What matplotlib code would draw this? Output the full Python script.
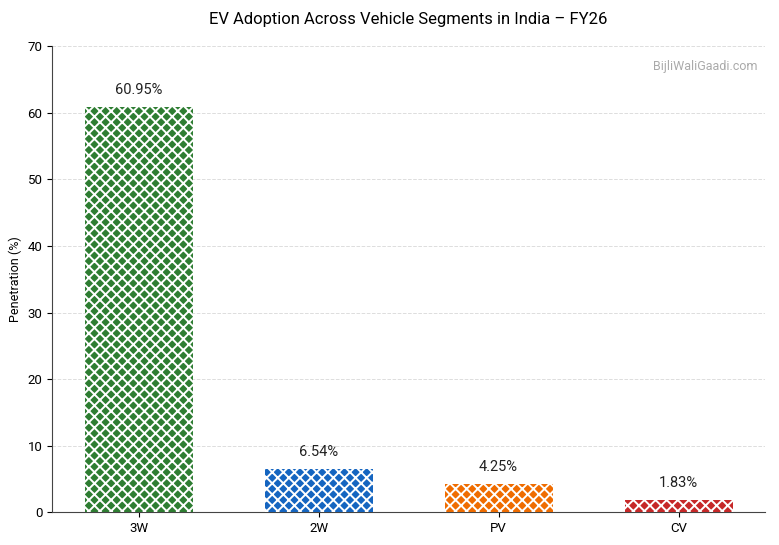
import matplotlib
matplotlib.use("Agg")
import matplotlib.pyplot as plt

segments = ["3W", "2W", "PV", "CV"]
penetration = [60.95, 6.54, 4.25, 1.83]
colors = ["#2e7d32", "#1565c0", "#ef6c00", "#c62828"]

plt.rcParams["font.family"] = ["Roboto", "DejaVu Sans"]
plt.rcParams["hatch.color"] = "white"
plt.rcParams["hatch.linewidth"] = 1.4

fig, ax = plt.subplots(figsize=(7.79, 5.45), dpi=100)
bars = ax.bar(segments, penetration, width=0.6, color=colors, hatch="xxx",
              edgecolor="white", linewidth=0, zorder=3)

for b, v in zip(bars, penetration):
    ax.text(b.get_x() + b.get_width() / 2, v + 1.5, f"{v:.2f}%",
            ha="center", va="bottom", fontsize=10.5, color="#222222")

ax.set_ylim(0, 70)
ax.set_ylabel("Penetration (%)", fontsize=9)
ax.set_title("EV Adoption Across Vehicle Segments in India – FY26", fontsize=12, pad=16)
ax.grid(axis="y", linestyle="--", color="#dddddd", linewidth=0.7, zorder=0)
ax.spines["top"].set_visible(False)
ax.spines["right"].set_visible(False)
ax.spines["left"].set_color("#444444")
ax.spines["bottom"].set_color("#444444")
ax.tick_params(labelsize=9.5)
ax.text(0.99, 0.97, "BijliWaliGaadi.com", transform=ax.transAxes,
        ha="right", va="top", fontsize=9, color="#aaaaaa")

fig.subplots_adjust(left=0.067, right=0.982, top=0.915, bottom=0.06)
fig.savefig("out.png", dpi=100)
